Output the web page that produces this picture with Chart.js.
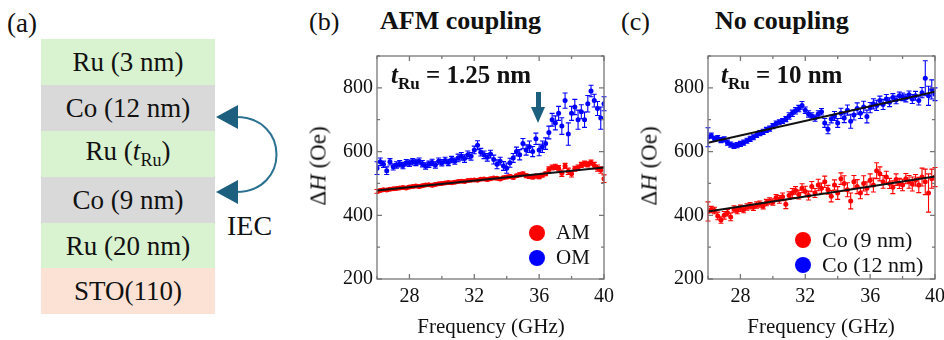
<!DOCTYPE html>
<html>
<head>
<meta charset="utf-8">
<script src="https://cdn.jsdelivr.net/npm/chart.js@4.4.0/dist/chart.umd.min.js"></script>
<style>
body{margin:0;background:#fff;font-family:'Liberation Serif',serif;}
#page{position:relative;width:944px;height:340px;overflow:hidden;background:#fff;}
.t{position:absolute;white-space:nowrap;color:#111;line-height:1;}
.layer{position:absolute;left:41px;width:174px;height:46px;display:flex;align-items:center;justify-content:center;font-size:27px;color:#111;}
.green{background:#d9f2d0;}
.gray{background:#d9d9d9;}
.salmon{background:#fbe2d5;}
.ylab{position:absolute;font-size:23px;line-height:1;white-space:nowrap;transform:translate(-50%,-50%) rotate(-90deg);color:#111;}
.dot{position:absolute;width:16px;height:16px;border-radius:50%;transform:translate(-50%,-50%);}
canvas{position:absolute;}
</style>
</head>
<body>
<div id="page">
  <!-- panel (a): layer stack -->
  <div class="t" style="left:7px;top:10px;font-size:27px;">(a)</div>
  <div class="layer green" style="top:39px;">Ru (3 nm)</div>
  <div class="layer gray" style="top:85px;">Co (12 nm)</div>
  <div class="layer green" style="top:131px;"><span>Ru (<i>t</i><sub style="font-size:18px;">Ru</sub>)</span></div>
  <div class="layer gray" style="top:177px;">Co (9 nm)</div>
  <div class="layer green" style="top:223px;">Ru (20 nm)</div>
  <div class="layer salmon" style="top:268px;">STO(110)</div>
  <div class="t" style="left:227px;top:212px;font-size:28px;">IEC</div>

  <!-- titles -->
  <div class="t" style="left:309px;top:9px;font-size:26px;">(b)</div>
  <div class="t" style="left:380px;top:8px;font-size:26px;font-weight:bold;">AFM coupling</div>
  <div class="t" style="left:621px;top:9px;font-size:26px;">(c)</div>
  <div class="t" style="left:715px;top:8px;font-size:26px;font-weight:bold;">No coupling</div>

  <canvas id="chartB" width="320" height="300" style="left:300px;top:40px;"></canvas>
  <canvas id="chartC" width="320" height="300" style="left:631px;top:40px;"></canvas>

  <!-- axis titles -->
  <div class="ylab" style="left:318px;top:166px;">&Delta;<i>H</i> (Oe)</div>
  <div class="ylab" style="left:649px;top:166px;">&Delta;<i>H</i> (Oe)</div>
  <div class="t" style="left:491px;top:316px;font-size:21px;transform:translateX(-50%);">Frequency (GHz)</div>
  <div class="t" style="left:821px;top:316px;font-size:21px;transform:translateX(-50%);">Frequency (GHz)</div>

  <!-- in-plot labels -->
  <div class="t" style="left:391px;top:62px;font-size:25px;font-weight:bold;"><i>t</i><sub style="font-size:17px;">Ru</sub> = 1.25 nm</div>
  <div class="t" style="left:721px;top:62px;font-size:25px;font-weight:bold;"><i>t</i><sub style="font-size:17px;">Ru</sub> = 10 nm</div>

  <!-- legends -->
  <div class="dot" style="left:537px;top:233px;background:#ff0000;"></div>
  <div class="t" style="left:556px;top:222px;font-size:21px;">AM</div>
  <div class="dot" style="left:537px;top:258px;background:#0000ff;"></div>
  <div class="t" style="left:556px;top:247px;font-size:21px;">OM</div>
  <div class="dot" style="left:803px;top:240px;background:#ff0000;"></div>
  <div class="t" style="left:822px;top:229px;font-size:22px;">Co (9 nm)</div>
  <div class="dot" style="left:803px;top:265px;background:#0000ff;"></div>
  <div class="t" style="left:822px;top:254px;font-size:22px;">Co (12 nm)</div>

  <!-- IEC arc and the arrow in (b) -->
  <svg width="944" height="340" style="position:absolute;left:0;top:0;pointer-events:none;">
    <path d="M 236 117 C 290 117, 290 192, 236 192" fill="none" stroke="#2b7192" stroke-width="2"/>
    <polygon points="216,117 238,105 238,129" fill="#1d5f7e"/>
    <polygon points="216,192 238,180 238,204" fill="#1d5f7e"/>
    <rect x="536" y="92" width="5" height="17" fill="#1d5f7e"/>
    <polygon points="531,107 545,107 538,123" fill="#1d5f7e"/>
  </svg>
</div>

<script>
// ---- data ----
let freq = [26.0,26.2,26.4,26.6,26.8,27.0,27.2,27.4,27.6,27.8,
            28.0,28.2,28.4,28.6,28.8,29.0,29.2,29.4,29.6,29.8,
            30.0,30.2,30.4,30.6,30.8,31.0,31.2,31.4,31.6,31.8,
            32.0,32.2,32.4,32.6,32.8,33.0,33.2,33.4,33.6,33.8,
            34.0,34.2,34.4,34.6,34.8,35.0,35.2,35.4,35.6,35.8,
            36.0,36.2,36.4,36.6,36.8,37.0,37.2,37.4,37.6,37.8,
            38.0,38.2,38.4,38.6,38.8,39.0,39.2,39.4,39.6,39.8,
            40.0];

// (b) AFM coupling, t_Ru = 1.25 nm
let amB = [475,478,480,479,482,483,484,486,487,486,
           489,490,492,490,493,495,496,494,497,499,
           500,501,503,502,504,506,507,506,509,510,
           511,510,513,514,512,515,517,516,514,518,
           520,522,519,524,527,530,524,522,520,523,
           521,526,530,544,550,552,548,532,555,538,
           530,546,550,558,562,560,565,556,548,542,
           515];
let amBErr = [6,4,4,4,4,4,4,4,4,4,
              4,4,4,4,4,4,4,4,4,4,
              4,4,4,4,4,4,4,4,4,4,
              4,4,4,4,4,4,4,4,4,4,
              5,5,5,5,6,6,6,6,6,6,
              6,6,6,8,8,8,8,10,8,10,
              10,8,8,8,8,8,8,10,10,10,
              12];
let omB = [548,568,560,540,568,552,558,562,556,565,
           563,568,566,570,562,555,560,566,558,570,
           565,572,566,575,570,580,585,578,590,585,
           605,620,598,590,582,592,575,560,570,555,
           548,565,580,600,590,625,605,615,600,640,
           605,615,625,660,700,690,720,680,760,655,
           720,740,700,725,700,750,790,760,735,705,
           750];
let omBErr = [20,12,10,12,10,10,10,10,10,10,
              10,10,10,10,10,10,10,10,10,10,
              10,10,10,10,10,12,12,12,12,12,
              12,14,12,12,12,12,14,14,12,14,
              16,14,14,14,16,16,16,18,16,18,
              18,18,18,20,20,22,22,26,24,35,
              22,24,30,22,24,26,18,20,22,35,
              22];

// (c) no coupling, t_Ru = 10 nm
let co9 = [412,418,415,398,385,400,408,395,420,415,
           422,418,426,430,425,432,435,430,440,445,
           442,455,450,458,435,462,470,478,465,485,
           475,462,490,470,495,485,505,480,460,495,
           470,515,500,480,445,505,490,470,500,485,
           510,495,540,530,505,520,500,488,512,500,
           495,515,505,498,510,495,520,505,470,515,
           520];
let co9Err = [30,10,10,12,10,12,10,12,10,10,
              10,10,10,10,10,10,10,10,10,10,
              10,10,12,12,14,12,14,12,14,14,
              16,14,16,14,18,16,18,14,18,16,
              20,18,24,22,25,20,22,18,24,20,
              20,22,25,22,20,18,16,20,18,16,
              18,16,20,22,18,24,28,40,60,30,
              30];
let co12 = [645,650,640,642,636,638,628,622,618,620,
            624,628,634,640,645,652,658,662,668,672,
            680,688,692,696,702,712,720,728,735,745,
            730,718,712,705,718,725,690,670,702,712,
            690,720,705,730,695,715,735,720,740,710,
            738,750,745,760,748,765,755,770,762,775,
            772,768,778,765,775,760,785,830,775,795,
            780];
let co12Err = [30,8,8,8,8,8,8,8,8,8,
               8,8,8,8,8,8,8,8,8,8,
               8,8,8,8,8,10,10,10,10,12,
               10,10,10,10,10,10,14,14,12,14,
               14,16,14,16,22,16,18,16,18,20,
               16,16,16,14,16,14,14,12,12,12,
               12,12,12,14,14,14,16,55,30,30,
               20];

// linear fits: value at 26 GHz and at 40 GHz
let fitX = [26, 40];
let fitAmB = [478, 550];
let fitCo9 = [412, 522];
let fitCo12 = [628, 788];

// --------------------------------

const SERIF = "'Liberation Serif', 'Times New Roman', serif";
Chart.defaults.font.family = SERIF;
Chart.defaults.color = '#111';

function pts(ys) {
  return ys.map((v, i) => ({ x: freq[i], y: v }));
}
function fitPts(ys) {
  return ys.map((v, i) => ({ x: fitX[i], y: v }));
}

// error bars, drawn under the points
const errorBars = {
  id: 'errorBars',
  beforeDatasetsDraw(chart) {
    let ctx = chart.ctx;
    let xs = chart.scales.x, ys = chart.scales.y;
    chart.data.datasets.forEach(ds => {
      if (!ds.errors) return;
      ctx.save();
      ctx.strokeStyle = ds.backgroundColor;
      ctx.lineWidth = 1.1;
      ds.data.forEach((p, i) => {
        let e = ds.errors[i];
        let px = xs.getPixelForValue(p.x);
        let y1 = ys.getPixelForValue(p.y + e);
        let y2 = ys.getPixelForValue(p.y - e);
        ctx.beginPath();
        ctx.moveTo(px, y1); ctx.lineTo(px, y2);
        ctx.moveTo(px - 2.5, y1); ctx.lineTo(px + 2.5, y1);
        ctx.moveTo(px - 2.5, y2); ctx.lineTo(px + 2.5, y2);
        ctx.stroke();
      });
      ctx.restore();
    });
  }
};

// box frame with inward ticks on all four sides
const frameTicks = {
  id: 'frameTicks',
  afterDatasetsDraw(chart) {
    let ctx = chart.ctx, a = chart.chartArea;
    let xs = chart.scales.x, ys = chart.scales.y;
    ctx.save();
    ctx.strokeStyle = '#777';
    ctx.lineWidth = 1.3;
    ctx.strokeRect(a.left, a.top, a.right - a.left, a.bottom - a.top);
    ctx.beginPath();
    xs.ticks.forEach(t => {
      let px = xs.getPixelForValue(t.value);
      let len = (t.value - 28) % 4 === 0 ? 5 : 3;
      ctx.moveTo(px, a.bottom); ctx.lineTo(px, a.bottom - len);
      ctx.moveTo(px, a.top); ctx.lineTo(px, a.top + len);
    });
    ys.ticks.forEach(t => {
      let py = ys.getPixelForValue(t.value);
      let len = t.value % 200 === 0 ? 5 : 3;
      ctx.moveTo(a.left, py); ctx.lineTo(a.left + len, py);
      ctx.moveTo(a.right, py); ctx.lineTo(a.right - len, py);
    });
    ctx.stroke();
    ctx.restore();
  }
};

function makeChart(id, series, fits) {
  let datasets = [];
  fits.forEach(f => {
    datasets.push({
      type: 'line', data: fitPts(f), borderColor: '#111', borderWidth: 2,
      pointRadius: 0, order: 0
    });
  });
  series.forEach(s => {
    datasets.push({
      type: 'scatter', data: pts(s.values), errors: s.errors,
      backgroundColor: s.color, borderColor: s.color,
      pointRadius: 2.5, pointBorderWidth: 0, order: 1
    });
  });

  return new Chart(document.getElementById(id), {
    type: 'scatter',
    data: { datasets: datasets },
    options: {
      responsive: false,
      animation: false,
      devicePixelRatio: 1,
      layout: { padding: { left: 0, right: 16, top: 13, bottom: 0 } },
      plugins: { legend: { display: false }, tooltip: { enabled: false } },
      scales: {
        x: {
          type: 'linear', min: 26, max: 40,
          grid: { display: false, drawTicks: false },
          border: { display: false },
          afterFit: s => { s.height = 61; },
          ticks: {
            stepSize: 2, padding: 6, font: { family: SERIF, size: 20 },
            callback: v => ((v - 28) % 4 === 0 ? v : '')
          }
        },
        y: {
          min: 200, max: 900,
          grid: { display: false, drawTicks: false },
          border: { display: false },
          afterFit: s => { s.width = 77; },
          ticks: {
            stepSize: 100, padding: 4, font: { family: SERIF, size: 20 },
            callback: v => (v % 200 === 0 ? v : '')
          }
        }
      }
    },
    plugins: [errorBars, frameTicks]
  });
}

makeChart('chartB',
  [{ values: amB, errors: amBErr, color: '#ff0000' },
   { values: omB, errors: omBErr, color: '#0000ff' }],
  [fitAmB]);

makeChart('chartC',
  [{ values: co9, errors: co9Err, color: '#ff0000' },
   { values: co12, errors: co12Err, color: '#0000ff' }],
  [fitCo9, fitCo12]);
</script>
</body>
</html>
